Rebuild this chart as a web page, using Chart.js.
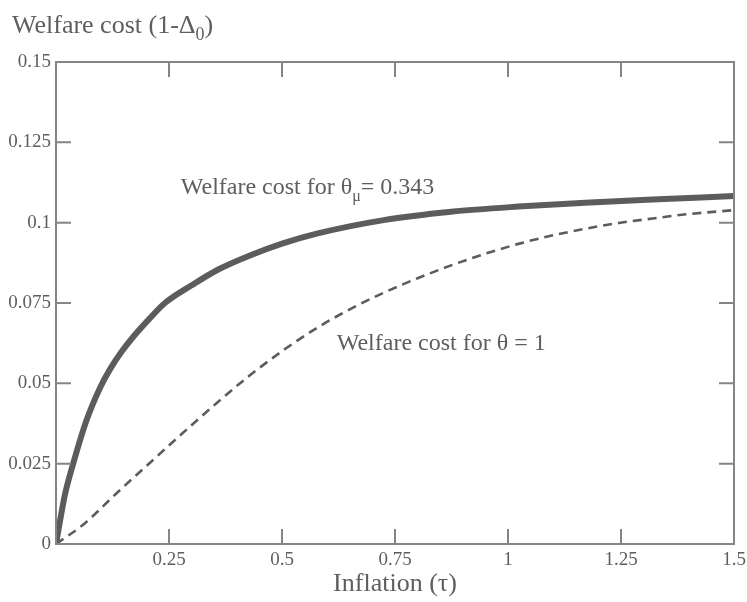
<!DOCTYPE html>
<html>
<head>
<meta charset="utf-8">
<script src="https://cdn.jsdelivr.net/npm/chart.js@4"></script>
<style>
  html, body { margin: 0; padding: 0; background: #fff; }
  #wrap { width: 747px; height: 602px; }
</style>
</head>
<body>
<div id="wrap"><canvas id="chart" width="747" height="602"></canvas></div>
<script>
// values
const thetaMuX = [0, 0.02, 0.038, 0.0675, 0.097, 0.12, 0.145, 0.171, 0.208, 0.241, 0.3, 0.36, 0.429, 0.5, 0.577, 0.725, 0.874, 1.023, 1.171, 1.32, 1.5];
const thetaMuY = [0, 0.0155, 0.025, 0.0385, 0.0485, 0.0545, 0.0598, 0.0645, 0.0703, 0.075, 0.0805, 0.0855, 0.0898, 0.0935, 0.0966, 0.1008, 0.1034, 0.105, 0.1062, 0.1072, 0.1083];

const thetaOneX = [0, 0.06, 0.134, 0.208, 0.281, 0.355, 0.429, 0.503, 0.577, 0.652, 0.725, 0.8, 0.874, 0.949, 1.023, 1.097, 1.171, 1.245, 1.32, 1.394, 1.5];
const thetaOneY = [0, 0.006, 0.0158, 0.0253, 0.0346, 0.0438, 0.0525, 0.0603, 0.0672, 0.0732, 0.0782, 0.0827, 0.0867, 0.0903, 0.0934, 0.096, 0.0981, 0.0999, 0.1013, 0.1026, 0.1039];

const xTickLabels = ['', '0.25', '0.5', '0.75', '1', '1.25', '1.5'];
const yTickLabels = ['0', '0.025', '0.05', '0.075', '0.1', '0.125', '0.15'];

const textColor = '#5e5e5e';
const axisColor = '#858585';
const serif = '"Liberation Serif", "DejaVu Serif", serif';

const toPoints = (xs, ys) => xs.map((x, i) => ({ x: x, y: ys[i] }));

// frame, inward ticks on all four sides, y title and curve labels
const framePlugin = {
  id: 'frame',
  afterDraw(chart) {
    const ctx = chart.ctx;
    const a = chart.chartArea;
    const xs = chart.scales.x;
    const ys = chart.scales.y;
    const len = 15;
    ctx.save();
    ctx.strokeStyle = axisColor;
    ctx.lineWidth = 2;
    ctx.strokeRect(a.left, a.top, a.right - a.left, a.bottom - a.top);
    ctx.beginPath();
    xs.ticks.forEach(t => {
      const px = xs.getPixelForValue(t.value);
      if (px <= a.left + 1 || px >= a.right - 1) return;
      ctx.moveTo(px, a.bottom); ctx.lineTo(px, a.bottom - len);
      ctx.moveTo(px, a.top); ctx.lineTo(px, a.top + len);
    });
    ys.ticks.forEach(t => {
      const py = ys.getPixelForValue(t.value);
      if (py <= a.top + 1 || py >= a.bottom - 1) return;
      ctx.moveTo(a.left, py); ctx.lineTo(a.left + len, py);
      ctx.moveTo(a.right, py); ctx.lineTo(a.right - len, py);
    });
    ctx.stroke();

    ctx.fillStyle = textColor;
    ctx.textBaseline = 'alphabetic';
    ctx.textAlign = 'left';

    // text with one subscripted part
    const subText = (x, y, size, before, sub, after) => {
      ctx.font = size + 'px ' + serif;
      ctx.fillText(before, x, y);
      x += ctx.measureText(before).width;
      ctx.font = Math.round(size * 0.68) + 'px ' + serif;
      ctx.fillText(sub, x, y + size * 0.28);
      x += ctx.measureText(sub).width;
      ctx.font = size + 'px ' + serif;
      ctx.fillText(after, x, y);
    };

    subText(12, 33, 26, 'Welfare cost (1-\u0394', '0', ')');
    subText(xs.getPixelForValue(0.276), ys.getPixelForValue(0.1089), 24,
      'Welfare cost for \u03b8', '\u03bc', '= 0.343');
    ctx.font = '24px ' + serif;
    ctx.fillText('Welfare cost for \u03b8 = 1', xs.getPixelForValue(0.621), ys.getPixelForValue(0.0605));
    ctx.restore();
  }
};

new Chart(document.getElementById('chart'), {
  type: 'scatter',
  data: {
    datasets: [
      {
        label: 'theta_mu = 0.343',
        data: toPoints(thetaMuX, thetaMuY),
        showLine: true,
        borderColor: '#5c5c5c',
        borderWidth: 6,
        pointRadius: 0,
        cubicInterpolationMode: 'monotone'
      },
      {
        label: 'theta = 1',
        data: toPoints(thetaOneX, thetaOneY),
        showLine: true,
        borderColor: '#5c5c5c',
        borderWidth: 2.6,
        borderDash: [9, 6],
        pointRadius: 0,
        cubicInterpolationMode: 'monotone'
      }
    ]
  },
  options: {
    responsive: false,
    animation: false,
    layout: { padding: { top: 62, right: 13, left: 0, bottom: 2 } },
    scales: {
      x: {
        type: 'linear',
        min: 0,
        max: 1.5,
        afterFit: s => { s.height = 56; s.paddingLeft = 0; s.paddingRight = 0; },
        grid: { display: false, drawTicks: false },
        border: { display: false },
        ticks: {
          stepSize: 0.25,
          padding: 5,
          color: textColor,
          font: { family: serif, size: 19 },
          maxRotation: 0,
          callback: v => xTickLabels[Math.round(v / 0.25)]
        },
        title: {
          display: true,
          text: 'Inflation (\u03c4)',
          color: textColor,
          font: { family: serif, size: 26 },
          padding: 0
        }
      },
      y: {
        min: 0,
        max: 0.15,
        afterFit: s => { s.width = 56; },
        grid: { display: false, drawTicks: false },
        border: { display: false },
        ticks: {
          stepSize: 0.025,
          padding: 5,
          color: textColor,
          font: { family: serif, size: 19 },
          callback: v => yTickLabels[Math.round(v / 0.025)]
        }
      }
    },
    plugins: {
      legend: { display: false },
      tooltip: { enabled: false }
    }
  },
  plugins: [framePlugin]
});
</script>
</body>
</html>
